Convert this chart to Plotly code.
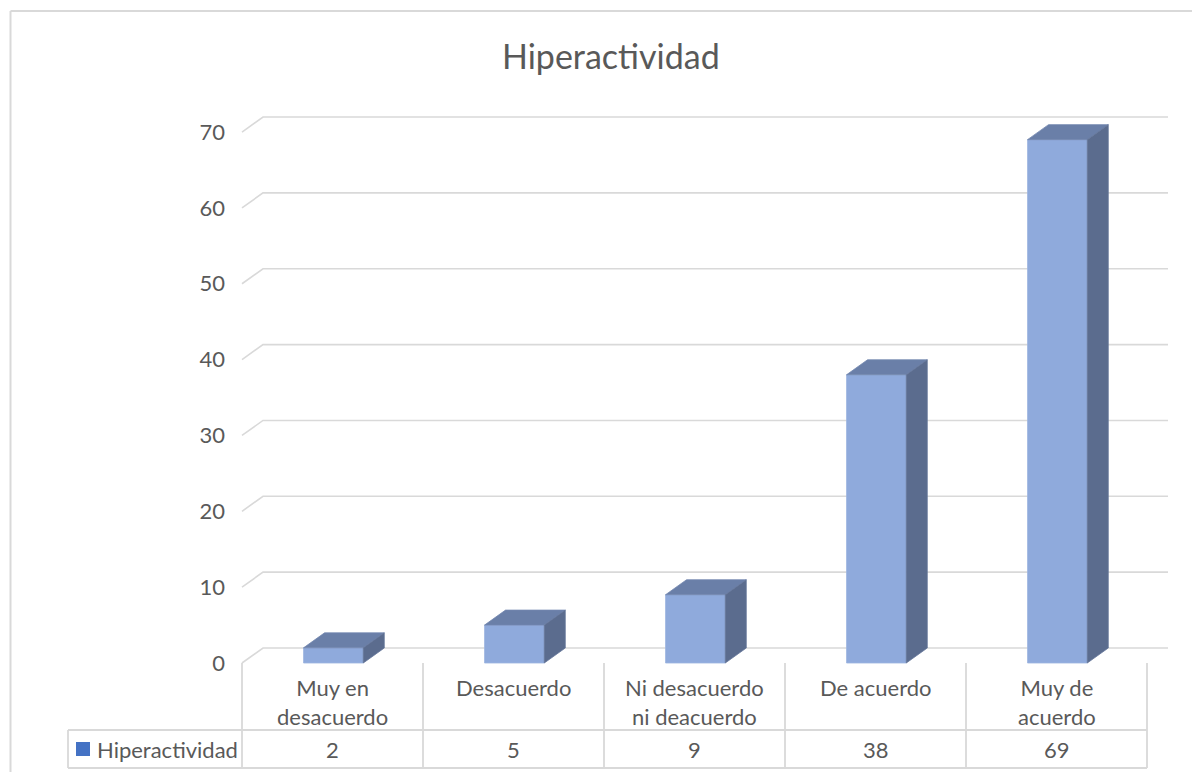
import plotly.graph_objects as go

# ---------------- data ----------------
title_text = "Hiperactividad"
series_name = "Hiperactividad"
categories = ["Muy en<br>desacuerdo", "Desacuerdo", "Ni desacuerdo<br>ni deacuerdo", "De acuerdo", "Muy de<br>acuerdo"]
values = [2, 5, 9, 38, 69]
y_ticks = [0, 10, 20, 30, 40, 50, 60, 70]

# ---------------- style / geometry ----------------
OFF = 8               # page body margin
W, H = 1184, 764      # figure size
PX_X = 181.0          # px per category unit
PX_Y = 7.585          # px per value unit
X0_PX = 242.0 - OFF   # px of x = -0.5
Y0_PX = 663.0 - OFF   # px of y = 0 (front plane)
DX = 21.0 / PX_X      # depth offset in x units
DY = 15.0 / PX_Y      # depth offset in y units
BAR_L, BAR_R = -0.16, 0.17

x_min = -0.5 - X0_PX / PX_X
x_max = x_min + W / PX_X
y_min = -(H - Y0_PX) / PX_Y
y_max = y_min + H / PX_Y

def px_to_x(p):  # page px -> data x
    return x_min + (p - OFF) / PX_X

def px_to_y(p):  # page px -> data y
    return y_min + (H - (p - OFF)) / PX_Y

GRID = "#D9D9D9"
TEXT = "#595959"
FRONT = "#8FAADC"
TOP = "#6A7FA8"
SIDE = "#5B6C8E"
FONT = "Lato"

n = len(categories)
fig = go.Figure()

# back-wall gridlines with the left diagonal
gx, gy = [], []
x_right_back = n - 0.5 + DX
for v in y_ticks:
    gx += [-0.5, -0.5 + DX, x_right_back, None]
    gy += [v, v + DY, v + DY, None]
fig.add_trace(go.Scatter(x=gx, y=gy, mode="lines", line=dict(color=GRID, width=1.6),
                         hoverinfo="skip", showlegend=False))

# bars: front face, top face, side face
for k, v in enumerate(values):
    x0, x1 = k + BAR_L, k + BAR_R
    fig.add_trace(go.Scatter(x=[x0, x1, x1, x0, x0], y=[0, 0, v, v, 0], fill="toself",
                             fillcolor=FRONT, mode="lines", line=dict(color="#9DB5E0", width=0.8),
                             hoverinfo="skip", showlegend=False))
    fig.add_trace(go.Scatter(x=[x0, x1, x1 + DX, x0 + DX, x0], y=[v, v, v + DY, v + DY, v],
                             fill="toself", fillcolor=TOP, mode="lines",
                             line=dict(color="#7488B0", width=0.8),
                             hoverinfo="skip", showlegend=False))
    fig.add_trace(go.Scatter(x=[x1, x1 + DX, x1 + DX, x1, x1], y=[0, DY, v + DY, v, 0],
                             fill="toself", fillcolor=SIDE, mode="lines",
                             line=dict(color="#64769A", width=0.8),
                             hoverinfo="skip", showlegend=False))

# data table lines
row1_bottom = px_to_y(730)
row2_bottom = px_to_y(768)
legend_left = px_to_x(68)
tx, ty = [], []
for k in range(n + 1):
    tx += [k - 0.5, k - 0.5, None]
    ty += [0, row2_bottom, None]
tx += [legend_left, n - 0.5, None, legend_left, n - 0.5, None, legend_left, legend_left, None]
ty += [row1_bottom, row1_bottom, None, row2_bottom, row2_bottom, None, row1_bottom, row2_bottom, None]
fig.add_trace(go.Scatter(x=tx, y=ty, mode="lines", line=dict(color=GRID, width=1.8),
                         hoverinfo="skip", showlegend=False))

# legend key in table
fig.add_trace(go.Scatter(x=[px_to_x(83)], y=[px_to_y(749)], mode="markers",
                         marker=dict(symbol="square", size=14, color="#4472C4"),
                         hoverinfo="skip", showlegend=False))

annotations = []
for k, c in enumerate(categories):
    annotations.append(dict(x=k, y=0, xref="x", yref="y", text=c, showarrow=False,
                            yanchor="top", yshift=-9, font=dict(family=FONT, size=22, color=TEXT)))
    annotations.append(dict(x=k, y=px_to_y(749), xref="x", yref="y", text=str(values[k]),
                            showarrow=False, yanchor="middle",
                            font=dict(family=FONT, size=22, color=TEXT)))
annotations.append(dict(x=px_to_x(95), y=px_to_y(749), xref="x", yref="y", text=series_name,
                        showarrow=False, xanchor="left", yanchor="middle",
                        font=dict(family=FONT, size=22, color=TEXT)))
annotations.append(dict(x=px_to_x(611), y=px_to_y(55), xref="x", yref="y", text=title_text,
                        showarrow=False, xanchor="center", yanchor="middle",
                        font=dict(family=FONT, size=34, color=TEXT)))

bx = (10.5 - OFF) / W
by = 1 - (11 - OFF) / H
fig.update_layout(
    width=W, height=H,
    margin=dict(l=0, r=0, t=0, b=0),
    paper_bgcolor="white", plot_bgcolor="white",
    showlegend=False,
    annotations=annotations,
    shapes=[
        dict(type="line", xref="paper", yref="paper", x0=bx, y0=by, x1=1.0, y1=by,
             line=dict(color=GRID, width=2), layer="below"),
        dict(type="line", xref="paper", yref="paper", x0=bx, y0=by, x1=bx, y1=0.0,
             line=dict(color=GRID, width=2), layer="below"),
    ],
    xaxis=dict(range=[x_min, x_max], domain=[0, 1], visible=False, fixedrange=True),
    yaxis=dict(range=[y_min, y_max], domain=[0, 1], anchor="free", position=X0_PX / W,
               tickvals=y_ticks, ticktext=[str(t) for t in y_ticks],
               showgrid=False, zeroline=False, showline=False, ticks="",
               ticklabelstandoff=17, fixedrange=True,
               tickfont=dict(family=FONT, size=22, color=TEXT)),
)

fig.write_html("out.html")
